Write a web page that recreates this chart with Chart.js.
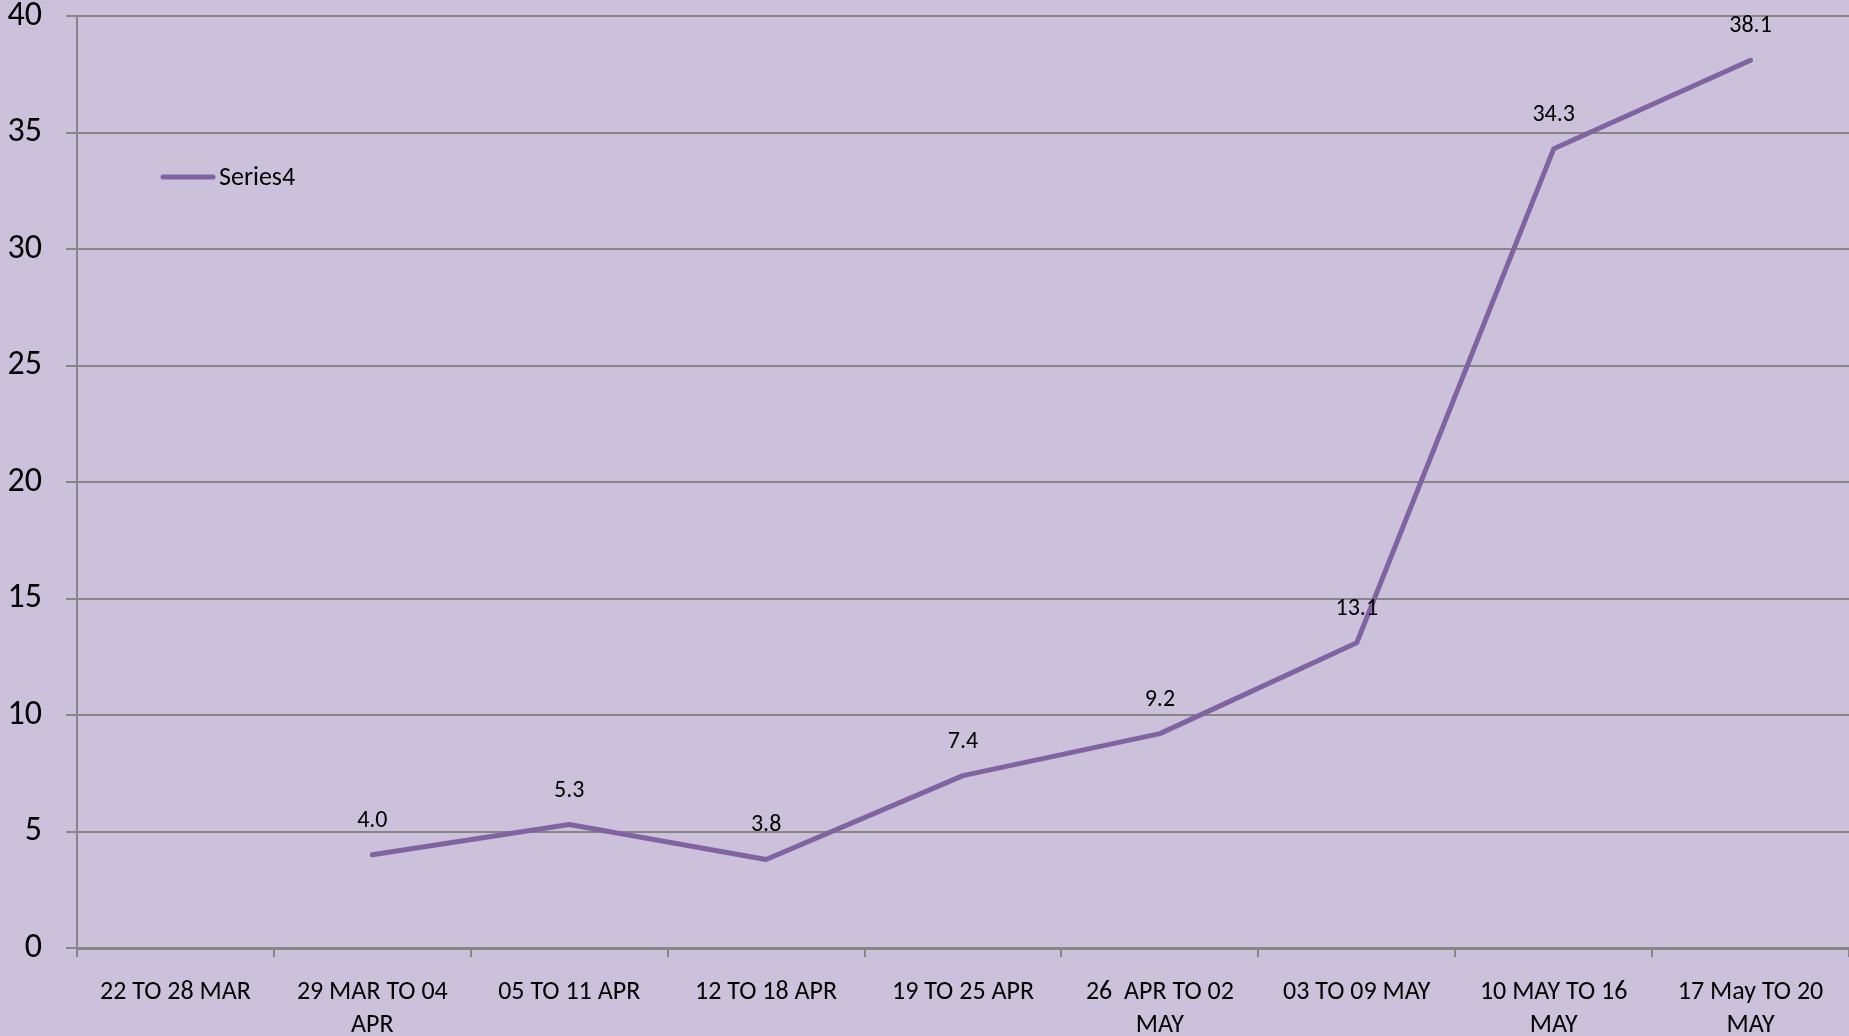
<!DOCTYPE html>
<html>
<head>
<meta charset="utf-8">
<script src="https://cdn.jsdelivr.net/npm/chart.js@4/dist/chart.umd.min.js"></script>
<style>
html,body{margin:0;padding:0;background:#CCC1DA;}
#wrap{width:1849px;height:1036px;position:relative;}
</style>
</head>
<body>
<div id="wrap"><canvas id="c" width="1849" height="1036"></canvas></div>
<script>
const categories = [
  "22 TO 28 MAR",
  ["29 MAR TO 04", "APR"],
  "05 TO 11 APR",
  "12 TO 18 APR",
  "19 TO 25 APR",
  ["26  APR TO 02", "MAY"],
  "03 TO 09 MAY",
  ["10 MAY TO 16", "MAY"],
  ["17 May TO 20", "MAY"]
];
const seriesName = "Series4";
const seriesValues = [null, 4.0, 5.3, 3.8, 7.4, 9.2, 13.1, 34.3, 38.1];
const yTicks = [0, 5, 10, 15, 20, 25, 30, 35, 40];

const FONT = "Calibri, Carlito, Lato, sans-serif";
const LINE = "#8064A2";
const GRID = "#868686";

const bgPlugin = {
  id: 'bg',
  beforeDraw(chart) {
    const ctx = chart.ctx;
    ctx.save();
    ctx.fillStyle = '#CCC1DA';
    ctx.fillRect(0, 0, chart.width, chart.height);
    ctx.restore();
  }
};

const labelPlugin = {
  id: 'valueLabels',
  afterDatasetsDraw(chart) {
    const ctx = chart.ctx;
    const meta = chart.getDatasetMeta(0);
    const data = chart.data.datasets[0].data;
    ctx.save();
    ctx.font = "24px " + FONT;
    ctx.fillStyle = "#000";
    ctx.textAlign = "center";
    ctx.textBaseline = "middle";
    meta.data.forEach((pt, i) => {
      if (data[i] == null) return;
      ctx.fillText(data[i].toFixed(1), pt.x, pt.y - 34);
    });
    ctx.restore();
  }
};

const legendPlugin = {
  id: 'innerLegend',
  afterDraw(chart) {
    const ctx = chart.ctx;
    const ds = chart.data.datasets[0];
    ctx.save();
    ctx.strokeStyle = ds.borderColor;
    ctx.lineWidth = 5;
    ctx.lineCap = 'round';
    ctx.beginPath();
    ctx.moveTo(163, 177);
    ctx.lineTo(213, 177);
    ctx.stroke();
    ctx.font = "26px " + FONT;
    ctx.fillStyle = "#000";
    ctx.textAlign = "left";
    ctx.textBaseline = "middle";
    ctx.fillText(ds.label, 219, 178);
    ctx.restore();
  }
};

new Chart(document.getElementById('c'), {
  type: 'line',
  data: {
    labels: categories,
    datasets: [{
      label: seriesName,
      data: seriesValues,
      borderColor: LINE,
      backgroundColor: LINE,
      borderWidth: 5,
      pointRadius: 0,
      pointHoverRadius: 0,
      tension: 0,
      spanGaps: false,
      borderCapStyle: 'round',
      borderJoinStyle: 'round'
    }]
  },
  options: {
    responsive: false,
    animation: false,
    devicePixelRatio: 1,
    layout: { padding: { top: 16, right: 0, left: 0, bottom: 0 } },
    plugins: {
      legend: { display: false },
      tooltip: { enabled: false }
    },
    scales: {
      x: {
        type: 'category',
        offset: true,
        grid: {
          offset: true,
          drawOnChartArea: false,
          drawTicks: true,
          tickLength: 9,
          color: GRID,
          lineWidth: 2
        },
        border: { display: true, color: GRID, width: 3 },
        ticks: {
          autoSkip: false,
          maxRotation: 0,
          minRotation: 0,
          padding: 19,
          color: '#000',
          font: { family: FONT, size: 26, lineHeight: 1.27 }
        },
        afterFit(scale) {
          scale.height = 88;
          scale.paddingLeft = 0; scale.paddingRight = 0;
        }
      },
      y: {
        min: 0,
        max: 40,
        afterBuildTicks(scale) { scale.ticks = yTicks.map(v => ({ value: v })); },
        grid: {
          color: GRID,
          lineWidth: 2,
          tickLength: 11,
          drawTicks: true
        },
        border: { display: true, color: GRID, width: 2 },
        ticks: {
          padding: 24,
          color: '#000',
          font: { family: FONT, size: 34 }
        },
        afterFit(scale) {
          scale.width = 77;
          scale.paddingTop = 0; scale.paddingBottom = 0;
        }
      }
    }
  },
  plugins: [bgPlugin, labelPlugin, legendPlugin]
});
</script>
</body>
</html>
